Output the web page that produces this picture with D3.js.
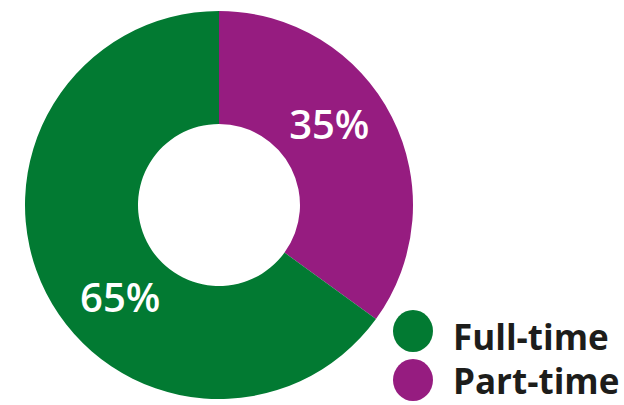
<!DOCTYPE html>
<html>
<head>
<meta charset="utf-8">
<script src="https://cdn.jsdelivr.net/npm/d3@7"></script>
<style>
  html, body { margin: 0; padding: 0; background: #fff; }
  svg { display: block; }
</style>
</head>
<body>
<div id="chart"></div>
<script>
var categories = ['Part-time', 'Full-time'];
var values = [35, 65];
var labels = ['35%', '65%'];
var legendOrder = ['Full-time', 'Part-time'];
var colours = { 'Full-time': '#027a32', 'Part-time': '#961c80' };

var w = 624, h = 405;
var cx = 219, cy = 205;
var outerR = 194, innerR = 81;

var svg = d3.select('#chart')
  .append('svg')
  .attr('width', w)
  .attr('height', h);

var pie = d3.pie().sort(null).value(function(d) { return d.value; });
var arc = d3.arc().innerRadius(innerR).outerRadius(outerR);

var slices = pie(categories.map(function(c, i) {
  return { name: c, value: values[i], label: labels[i] };
}));

var g = svg.append('g').attr('transform', 'translate(' + cx + ',' + cy + ')');

g.selectAll('path.slice')
  .data(slices)
  .enter().append('path')
  .attr('class', 'slice')
  .attr('d', arc)
  .attr('fill', function(d) { return colours[d.data.name]; });

// labels sit a bit before the middle of each slice
function labelAngle(d) {
  return d.startAngle + 0.43 * (d.endAngle - d.startAngle);
}

g.selectAll('text.pct')
  .data(slices)
  .enter().append('text')
  .attr('class', 'pct')
  .attr('x', function(d) { return Math.sin(labelAngle(d)) * 136; })
  .attr('y', function(d) { return -Math.cos(labelAngle(d)) * 136 + 14; })
  .attr('text-anchor', 'middle')
  .attr('fill', '#fff')
  .attr('font-family', 'Open Sans, sans-serif')
  .attr('font-weight', 600)
  .attr('font-size', 40)
  .text(function(d) { return d.data.label; });

var legend = svg.append('g').attr('transform', 'translate(413,331)');
var items = legend.selectAll('g')
  .data(legendOrder)
  .enter().append('g')
  .attr('transform', function(d, i) { return 'translate(0,' + (i * 49) + ')'; });

items.append('ellipse')
  .attr('rx', 20)
  .attr('ry', 21)
  .attr('fill', function(d) { return colours[d]; });

items.append('text')
  .attr('x', 40)
  .attr('y', function(d, i) { return i ? 14 : 19; })
  .attr('fill', '#1d1d1b')
  .attr('font-family', 'Open Sans, sans-serif')
  .attr('font-weight', 700)
  .attr('font-size', 35)
  .text(function(d) { return d; });
</script>
</body>
</html>
